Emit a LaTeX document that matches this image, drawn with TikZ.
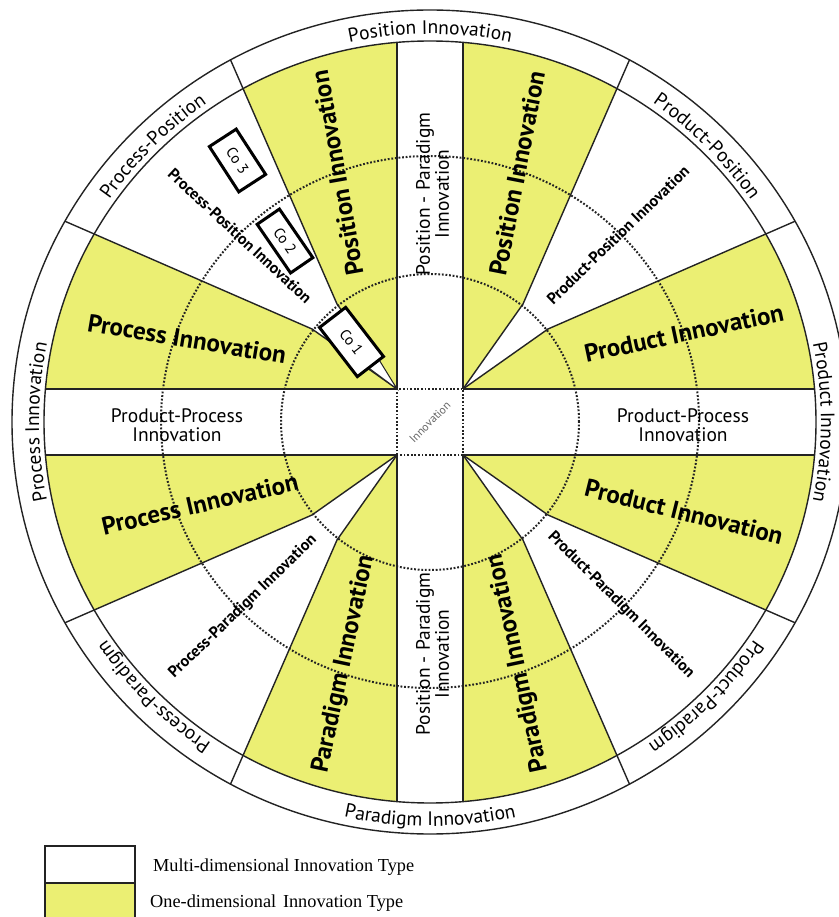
\documentclass[tikz,border=0pt]{standalone}
\usepackage{fontspec}
\setmainfont{PT Sans}
\newfontfamily\dglegendfamily{Liberation Serif}
\usetikzlibrary{decorations.text,calc}
\definecolor{oneyellow}{RGB}{235,239,115}
\definecolor{inkgray}{RGB}{35,35,35}
\newcommand{\dgring}{\fontsize{19.5}{22}\selectfont}
\newcommand{\dgband}{\fontsize{19.5}{19}\selectfont}
\newcommand{\dgone}{\bfseries\fontsize{25}{28}\selectfont}
\newcommand{\dgmulti}{\bfseries\fontsize{16}{18}\selectfont}
\newcommand{\dgco}{\fontsize{15}{17}\selectfont}
\newcommand{\dglegend}{\dglegendfamily\fontsize{18.3}{22}\selectfont}
\begin{document}
\begin{tikzpicture}[x=1pt,y=1pt,
  sepline/.style={draw=inkgray,line width=1.4pt},
  dotline/.style={draw=inkgray,line width=2pt,dash pattern=on 1.8pt off 1.8pt},
  cobox/.style={draw=black,line width=3pt,fill=white,inner sep=0pt,font=\dgco},
  onelabel/.style={font=\dgone,inner sep=0pt},
  multilabel/.style={font=\dgmulti,inner sep=0pt},
  bandlabel/.style={font=\dgband,align=center,inner sep=0pt},
  legendtext/.style={font=\dglegend,inner sep=0pt,anchor=base west},
]
\useasboundingbox (-430,-495) rectangle (408,422);

% quadrant geometry
\foreach \sx/\sy/\q in {1/1/tr,-1/1/tl,-1/-1/bl,1/-1/br}{
  \coordinate (A\q) at ({33*\sx},{33*\sy});
  \coordinate (K1\q) at ({93*\sx},{118*\sy});
  \coordinate (K2\q) at ({118*\sx},{93*\sy});
  \coordinate (E1\q) at ({216*\sx},{400*\sy});
  \coordinate (E2\q) at ({400*\sx},{216*\sy});
}

% outer ring and inner disc
\fill[white] (0,0) ellipse[x radius=418, y radius=412];
\fill[oneyellow] (0,0) ellipse[x radius=386, y radius=381];

\begin{scope}
  \clip (0,0) ellipse[x radius=386, y radius=381];
  \fill[white] (-33,-400) rectangle (33,400);
  \fill[white] (-400,-33) rectangle (400,33);
  \foreach \q in {tr,tl,bl,br}{
    \fill[white] (A\q) -- (K1\q) -- (E1\q) -- (E2\q) -- (K2\q) -- cycle;
  }
  \draw[sepline] (Atl) -- ++(0,400);
  \draw[sepline] (Atr) -- ++(0,400);
  \draw[sepline] (Abl) -- ++(0,-400);
  \draw[sepline] (Abr) -- ++(0,-400);
  \draw[sepline] (Atl) -- ++(-400,0);
  \draw[sepline] (Abl) -- ++(-400,0);
  \draw[sepline] (Atr) -- ++(400,0);
  \draw[sepline] (Abr) -- ++(400,0);
\end{scope}

\begin{scope}
  \clip (0,0) ellipse[x radius=418, y radius=412];
  \foreach \q in {tr,tl,bl,br}{
    \draw[sepline] (A\q) -- (K1\q) -- (E1\q);
    \draw[sepline] (A\q) -- (K2\q) -- (E2\q);
  }
\end{scope}

\draw[sepline] (0,0) ellipse[x radius=418, y radius=412];
\draw[sepline] (0,0) ellipse[x radius=386, y radius=381];

% dotted circles and centre square
\draw[dotline] (0,0) ellipse[x radius=269, y radius=266];
\draw[dotline] (0,0) ellipse[x radius=149, y radius=148];
\draw[dotline] (Abl) rectangle (Atr);

% ring labels
\path[decorate,decoration={text along path,text align=center,text={|\dgring|Position Innovation}}]
  (125:391 and 388) arc[start angle=125,end angle=55,x radius=391,y radius=388];
\path[decorate,decoration={text along path,text align=center,text={|\dgring|Product-Position}}]
  (80:391 and 388) arc[start angle=80,end angle=10,x radius=391,y radius=388];
\path[decorate,decoration={text along path,text align=center,text={|\dgring|Product Innovation}}]
  (35:391 and 388) arc[start angle=35,end angle=-35,x radius=391,y radius=388];
\path[decorate,decoration={text along path,text align=center,text={|\dgring|Product-Paradigm}}]
  (-10:391 and 388) arc[start angle=-10,end angle=-80,x radius=391,y radius=388];
\path[decorate,decoration={text along path,text align=center,text={|\dgring|Paradigm Innovation}}]
  (235:409 and 404) arc[start angle=235,end angle=305,x radius=409,y radius=404];
\path[decorate,decoration={text along path,text align=center,text={|\dgring|Process-Paradigm}}]
  (260:391 and 388) arc[start angle=260,end angle=190,x radius=391,y radius=388];
\path[decorate,decoration={text along path,text align=center,text={|\dgring|Process Innovation}}]
  (215:391 and 388) arc[start angle=215,end angle=145,x radius=391,y radius=388];
\path[decorate,decoration={text along path,text align=center,text={|\dgring|Process-Position}}]
  (170:391 and 388) arc[start angle=170,end angle=100,x radius=391,y radius=388];

% one-dimensional labels
\node[onelabel,rotate=100] (posTL) at (-93,249) {Position Innovation};
\node[onelabel,rotate=79] (posTR) at (87,249) {Position Innovation};
\node[onelabel,rotate=78] (parBL) at (-86,-242) {Paradigm Innovation};
\node[onelabel,rotate=102] (parBR) at (88,-241) {Paradigm Innovation};
\node[onelabel,rotate=-9.5] (proTL) at (-243,83) {Process Innovation};
\node[onelabel,rotate=12] (prdTR) at (254,89) {Product Innovation};
\node[onelabel,rotate=13] (proBL) at (-230,-82) {Process Innovation};
\node[onelabel,rotate=-14] (prdBR) at (254,-90) {Product Innovation};

% multi-dimensional labels
\node[multilabel,rotate=-43] (mTL) at (-190,186) {Process-Position Innovation};
\node[multilabel,rotate=44] (mTR) at (188,187) {Product-Position Innovation};
\node[multilabel,rotate=44] (mBL) at (-187,-185) {Process-Paradigm Innovation};
\node[multilabel,rotate=-45] (mBR) at (191,-183) {Product-Paradigm Innovation};

% band labels
\node[bandlabel,rotate=90] (bandT) at (2.5,228) {Position - Paradigm\\Innovation};
\node[bandlabel,rotate=90] (bandB) at (2.5,-232) {Position - Paradigm\\Innovation};
\node[bandlabel] (bandL) at (-253,-3.5) {Product-Process\\Innovation};
\node[bandlabel] (bandR) at (253,-3.5) {Product-Process\\Innovation};
\node[font=\fontsize{11.5}{12}\selectfont,text=black!60,rotate=45,inner sep=0pt] (centre) at (0,0) {Innovation};

% company boxes
\node[cobox,minimum width=54,minimum height=32,rotate=-57] (co3) at (-192.5,261.5) {Co 3};
\node[cobox,minimum width=59,minimum height=27,rotate=-55.5] (co2) at (-145,181) {Co 2};
\path node[cobox,draw=none,fill=none,minimum width=62,minimum height=33,rotate=-52.4] (co1frame) at (-78.5,80) {\phantom{Co 1}};
\coordinate (t1) at ($(co1frame.north east)!0.2!(co1frame.south east)$);
\coordinate (t2) at ($(co1frame.north east)!0.55!(co1frame.south east)$);
\fill[white] (t1) -- (Atl) -- (t2) -- cycle;
\draw[inkgray,line width=1pt] (t1) -- (Atl) -- (t2);
\node[cobox,minimum width=62,minimum height=33,rotate=-52.4] (co1) at (co1frame) {Co 1};

% legend
\draw[draw=inkgray,line width=1.5pt,fill=white] (-385,-424) rectangle (-295,-461);
\draw[draw=inkgray,line width=1.5pt,fill=oneyellow] (-385,-461) rectangle (-295,-505);
\node[legendtext] (legM) at (-277,-449) {Multi-dimensional Innovation Type};
\node[legendtext] (legO) at (-280,-485) {One-dimensional\hspace{0.12em} Innovation Type};
\end{tikzpicture}
\end{document}
